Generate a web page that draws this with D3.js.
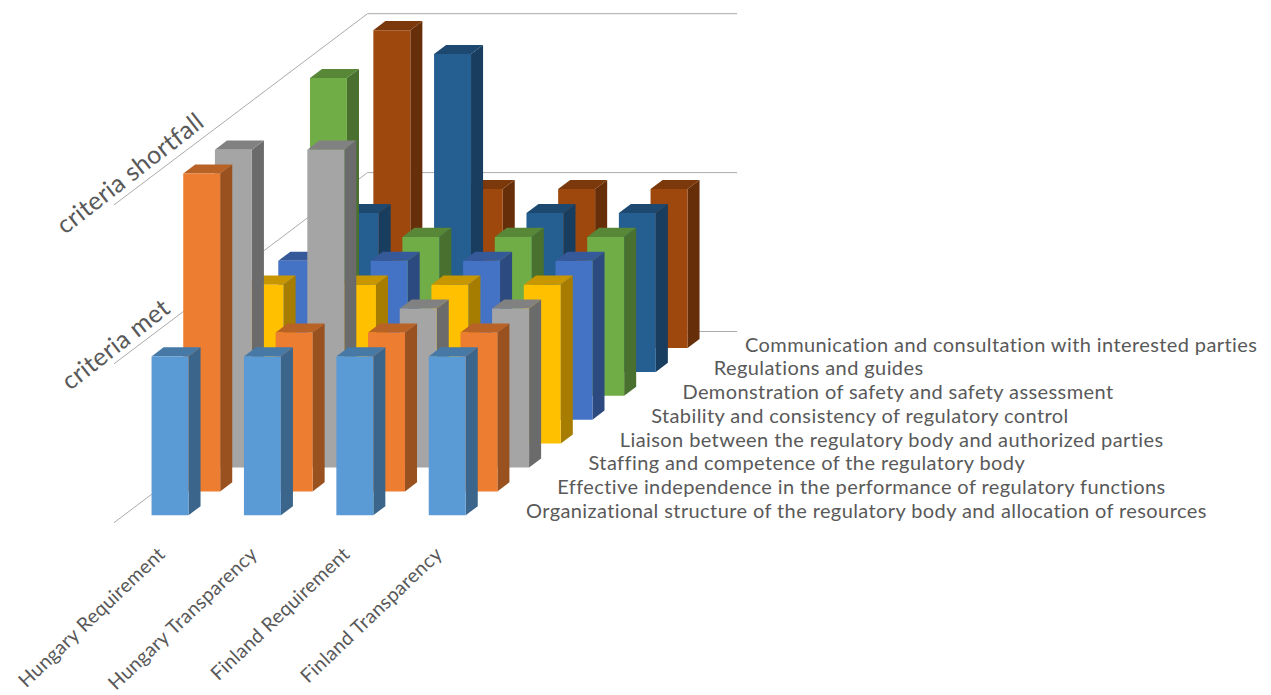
<!DOCTYPE html>
<html>
<head>
<meta charset="utf-8">
<title>Regulatory criteria by country</title>
<script src="https://cdn.jsdelivr.net/npm/d3@7"></script>
<style>
  html, body { margin: 0; padding: 0; background: #fff; }
  svg { display: block; }
  text { font-family: Lato, "Open Sans", sans-serif; fill: #595959; }
</style>
</head>
<body>
<svg id="chart" width="1271" height="695"></svg>
<script>
// front to back along the depth axis
const categories = ["Hungary Requirement", "Hungary Transparency", "Finland Requirement", "Finland Transparency"];
const seriesNames = [
  "Organizational structure of the regulatory body and allocation of resources",
  "Effective independence in the performance of regulatory functions",
  "Staffing and competence of the regulatory body",
  "Liaison between the regulatory body and authorized parties",
  "Stability and consistency of regulatory control",
  "Demonstration of safety and safety assessment",
  "Regulations and guides",
  "Communication and consultation with interested parties"
];
// one row per series, one value per category
const organizational = [1, 1, 1, 1];
const independence = [2, 1, 1, 1];
const staffing = [2, 2, 1, 1];
const liaison = [1, 1, 1, 1];
const stability = [1, 1, 1, 1];
const demonstration = [2, 1, 1, 1];
const regulations = [1, 2, 1, 1];
const communication = [2, 1, 1, 1];
const seriesValues = [organizational, independence, staffing, liaison, stability, demonstration, regulations, communication];

const levelValues = [0, 1, 2];
const levelLabels = ["", "criteria met", "criteria shortfall"];
const seriesColors = ["#5B9BD5", "#ED7D31", "#A5A5A5", "#FFC000", "#4472C4", "#70AD47", "#255E91", "#9E480E"];

const svg = d3.select("#chart");

// floor corner nearest the viewer, and how far the floor runs sideways and into the page
const origin = { x: 114, y: 522.7 };
const floorWidth = 369.6;
const floorDepth = { x: 253.5, y: -191.2 };

const xScale = d3.scaleBand()
  .domain(categories)
  .range([0, floorWidth])
  .paddingInner(0.6)
  .paddingOuter(0.3);

// 0 is the front edge of the floor, 1 the back wall
const depthScale = d3.scaleBand()
  .domain(seriesNames)
  .range([0, 1])
  .paddingInner(0.62)
  .paddingOuter(0.31);

const yScale = d3.scaleLinear()
  .domain([0, 2])
  .range([0, -317.8]);

// oblique projection: x along the floor, d into the page, v up
const project = (x, d, v) => [
  origin.x + x + d * floorDepth.x,
  origin.y + d * floorDepth.y + yScale(v)
];

const line = d3.line();

// wall lines: up the left wall, then along the back wall
const walls = svg.append("g").attr("class", "walls");
walls.selectAll("path")
  .data(levelValues)
  .join("path")
  .attr("d", v => line([project(0, 0, v), project(0, 1, v), project(floorWidth, 1, v)]))
  .attr("fill", "none")
  .attr("stroke", "#ABABAB")
  .attr("stroke-width", 1);

// back rows first so the nearer bars cover them
const bars = [];
seriesNames.forEach((name, s) => {
  categories.forEach((cat, c) => {
    bars.push({ series: name, s, cat, value: seriesValues[s][c] });
  });
});
bars.sort((a, b) => b.s - a.s);

const shade = (color, k) => {
  const c = d3.rgb(color);
  return d3.rgb(c.r * k, c.g * k, c.b * k).formatHex();
};

const barGroups = svg.append("g").attr("class", "bars")
  .selectAll("g")
  .data(bars)
  .join("g");

barGroups.each(function(d) {
  const g = d3.select(this);
  const x0 = xScale(d.cat);
  const x1 = x0 + xScale.bandwidth();
  const d0 = depthScale(d.series);
  const d1 = d0 + depthScale.bandwidth();
  const color = seriesColors[d.s];

  // right side
  g.append("path")
    .attr("d", line([project(x1, d0, 0), project(x1, d1, 0), project(x1, d1, d.value), project(x1, d0, d.value)]) + "Z")
    .attr("fill", shade(color, 0.65));
  // top
  g.append("path")
    .attr("d", line([project(x0, d0, d.value), project(x1, d0, d.value), project(x1, d1, d.value), project(x0, d1, d.value)]) + "Z")
    .attr("fill", shade(color, 0.78));
  // front
  g.append("path")
    .attr("d", line([project(x0, d0, 0), project(x1, d0, 0), project(x1, d0, d.value), project(x0, d0, d.value)]) + "Z")
    .attr("fill", color);
});

// category labels under the front edge
const xAxis = d3.axisBottom(xScale).tickSize(0);
const xAxisG = svg.append("g")
  .attr("transform", `translate(${origin.x}, ${origin.y})`)
  .call(xAxis);
xAxisG.select(".domain").remove();
xAxisG.selectAll("text")
  .attr("x", 6)
  .attr("y", 33)
  .attr("dy", 0)
  .attr("text-anchor", "end")
  .attr("transform", "rotate(-43.5 6 33)")
  .style("font-family", "Lato")
  .style("font-size", "19.5px")
  .style("letter-spacing", "0.3px")
  .style("fill", "#595959");

// series names step back with the rows
const labelX = d3.scalePoint().domain(seriesNames).range([526, 745]);
const labelY = d3.scalePoint().domain(seriesNames).range([518, 351.7]);
svg.append("g").attr("class", "depth-labels")
  .selectAll("text")
  .data(seriesNames)
  .join("text")
  .attr("x", d => labelX(d))
  .attr("y", d => labelY(d))
  .style("font-size", "20px")
  .style("letter-spacing", "0.4px")
  .text(d => d);

// value labels lie along the left wall
const levelLabelPos = [null, [70, 391], [65, 235]];
svg.append("g").attr("class", "level-labels")
  .selectAll("text")
  .data(levelValues.filter(v => levelLabels[v]))
  .join("text")
  .attr("transform", v => `translate(${levelLabelPos[v]}) rotate(-38)`)
  .style("font-size", "25px")
  .style("letter-spacing", "0.3px")
  .text(v => levelLabels[v]);
</script>
</body>
</html>
